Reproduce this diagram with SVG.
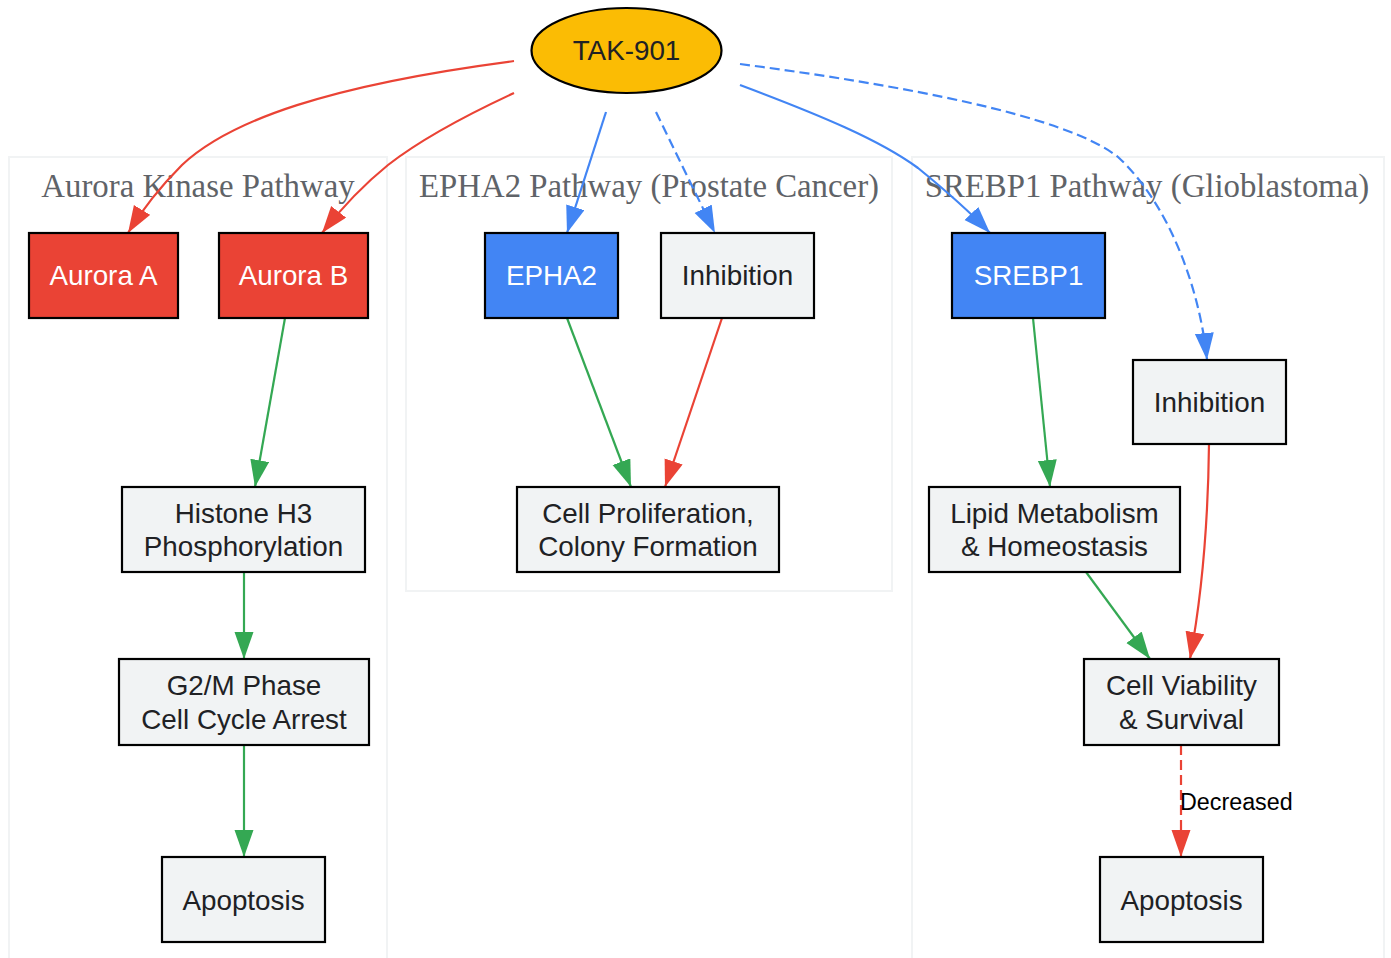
<svg xmlns="http://www.w3.org/2000/svg" width="1391" height="958" viewBox="0 0 1391 958">
<defs>
<style>
.cluster{fill:#ffffff;stroke:#f1f3f4;stroke-width:2}
.clabel{font-family:"Liberation Serif",serif;font-size:32.8px;fill:#5f6368;text-anchor:middle}
.box{stroke:#000;stroke-width:2.2}
.red{fill:#ea4335}
.blue{fill:#4285f4}
.grey{fill:#f1f3f4}
.t{font-family:"Liberation Sans",Arial,sans-serif;font-size:27.8px;text-anchor:middle}
.w{fill:#ffffff}
.d{fill:#202124}
.e{fill:none;stroke-width:2.2}
.er{stroke:#ea4335}
.eb{stroke:#4285f4}
.eg{stroke:#34a853}
.dash{stroke-dasharray:10,5}
.elabel{font-family:"Liberation Sans",Arial,sans-serif;font-size:23.3px;fill:#000}
</style>
<marker id="ar" markerUnits="userSpaceOnUse" markerWidth="28" markerHeight="20" refX="27" refY="9.5" orient="auto"><path d="M0,0 L27,9.5 L0,19 Z" fill="#ea4335"/></marker>
<marker id="ab" markerUnits="userSpaceOnUse" markerWidth="28" markerHeight="20" refX="27" refY="9.5" orient="auto"><path d="M0,0 L27,9.5 L0,19 Z" fill="#4285f4"/></marker>
<marker id="ag" markerUnits="userSpaceOnUse" markerWidth="28" markerHeight="20" refX="27" refY="9.5" orient="auto"><path d="M0,0 L27,9.5 L0,19 Z" fill="#34a853"/></marker>
</defs>
<rect width="1391" height="958" fill="#ffffff"/>
<g id="clusters">
<g id="cluster_aurora"><rect class="cluster" x="9" y="157" width="378" height="820"/><text class="clabel" x="198" y="197">Aurora Kinase Pathway</text></g>
<g id="cluster_epha2"><rect class="cluster" x="406" y="157" width="486" height="434"/><text class="clabel" x="649" y="197">EPHA2 Pathway (Prostate Cancer)</text></g>
<g id="cluster_srebp1"><rect class="cluster" x="912" y="157" width="472" height="820"/><text class="clabel" x="1147" y="197">SREBP1 Pathway (Glioblastoma)</text></g>
</g>
<g id="edges">
<path class="e er" d="M514,61 C330,85 230,120 182,165 C160,187 142,210 128,233" marker-end="url(#ar)"/>
<path class="e er" d="M514,93 C460,118 420,140 388,165 C362,186 340,210 322,233" marker-end="url(#ar)"/>
<path class="e eb" d="M606,112 L567,233" marker-end="url(#ab)"/>
<path class="e eb dash" d="M656,112 L715,233" marker-end="url(#ab)"/>
<path class="e eb" d="M740,85 C820,115 880,140 918,168 C945,190 970,212 990,233" marker-end="url(#ab)"/>
<path class="e eb dash" d="M740,64 C900,85 1065,115 1118,157 C1170,205 1200,290 1207,360" marker-end="url(#ab)"/>
<path class="e eg" d="M285,318 L255,487" marker-end="url(#ag)"/>
<path class="e eg" d="M244,572 L244,659" marker-end="url(#ag)"/>
<path class="e eg" d="M244,745 L244,857" marker-end="url(#ag)"/>
<path class="e eg" d="M567,318 L631,487" marker-end="url(#ag)"/>
<path class="e er" d="M722,318 L665,487" marker-end="url(#ar)"/>
<path class="e eg" d="M1033,318 L1050,487" marker-end="url(#ag)"/>
<path class="e eg" d="M1086,572 L1150,659" marker-end="url(#ag)"/>
<path class="e er" d="M1209,444 C1208,530 1201,600 1190,659" marker-end="url(#ar)"/>
<path class="e er dash" d="M1181,745 L1181,857" marker-end="url(#ar)"/>
<text class="elabel" x="1180" y="810">Decreased</text>
</g>
<g id="tak901"><ellipse cx="626.5" cy="50.5" rx="95" ry="42.5" fill="#fbbc04" stroke="#000" stroke-width="2.2"/><text class="t d" x="626.5" y="60">TAK-901</text></g>
<g id="auroraA"><rect class="box red" x="29" y="233" width="149" height="85"/><text class="t w" x="103.5" y="285">Aurora A</text></g>
<g id="auroraB"><rect class="box red" x="219" y="233" width="149" height="85"/><text class="t w" x="293.5" y="285">Aurora B</text></g>
<g id="epha2"><rect class="box blue" x="485" y="233" width="133" height="85"/><text class="t w" x="551.5" y="285">EPHA2</text></g>
<g id="inhib1"><rect class="box grey" x="661" y="233" width="153" height="85"/><text class="t d" x="737.5" y="285">Inhibition</text></g>
<g id="srebp1"><rect class="box blue" x="952" y="233" width="153" height="85"/><text class="t w" x="1028.5" y="285">SREBP1</text></g>
<g id="inhib2"><rect class="box grey" x="1133" y="360" width="153" height="84"/><text class="t d" x="1209.5" y="412">Inhibition</text></g>
<g id="histone"><rect class="box grey" x="122" y="487" width="243" height="85"/><text class="t d" x="243.5" y="523">Histone H3</text><text class="t d" x="243.5" y="556">Phosphorylation</text></g>
<g id="prolif"><rect class="box grey" x="517" y="487" width="262" height="85"/><text class="t d" x="648" y="523">Cell Proliferation,</text><text class="t d" x="648" y="556">Colony Formation</text></g>
<g id="lipid"><rect class="box grey" x="929" y="487" width="251" height="85"/><text class="t d" x="1054.5" y="523">Lipid Metabolism</text><text class="t d" x="1054.5" y="556">&amp; Homeostasis</text></g>
<g id="g2m"><rect class="box grey" x="119" y="659" width="250" height="86"/><text class="t d" x="244" y="695">G2/M Phase</text><text class="t d" x="244" y="729">Cell Cycle Arrest</text></g>
<g id="viab"><rect class="box grey" x="1084" y="659" width="195" height="86"/><text class="t d" x="1181.5" y="695">Cell Viability</text><text class="t d" x="1181.5" y="729">&amp; Survival</text></g>
<g id="apop1"><rect class="box grey" x="162" y="857" width="163" height="85"/><text class="t d" x="243.5" y="910">Apoptosis</text></g>
<g id="apop2"><rect class="box grey" x="1100" y="857" width="163" height="85"/><text class="t d" x="1181.5" y="910">Apoptosis</text></g>
</svg>
